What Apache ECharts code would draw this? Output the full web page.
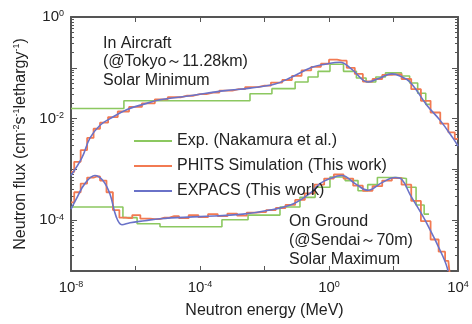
<!DOCTYPE html>
<html>
<head>
<meta charset="utf-8">
<script src="https://cdn.jsdelivr.net/npm/echarts@6/dist/echarts.min.js"></script>
<style>
  html, body { margin: 0; padding: 0; background: #ffffff; }
  #chart { width: 472px; height: 324px; }
</style>
</head>
<body>
<div id="chart"></div>
<script>
// all values are log10 exponents (energy in MeV, flux)
var expacsAirE = [-8.0, -7.66, -7.41, -7.10, -6.79, -6.26, -5.71, -5.24, -4.31, -3.22, -2.45, -1.67, -1.15, -0.53, -0.12, 0.34, 0.71, 1.21, 1.58, 1.95, 2.20, 2.51, 3.04, 3.44, 3.84, 4.0]
var expacsAirF = [-3.12, -2.77, -2.38, -2.13, -2.00, -1.82, -1.71, -1.63, -1.55, -1.45, -1.40, -1.32, -1.18, -0.99, -0.93, -0.89, -1.03, -1.28, -1.20, -1.12, -1.16, -1.28, -1.74, -2.03, -2.38, -2.54]
var expacsGroundE = [-8.0, -7.81, -7.57, -7.26, -7.01, -6.79, -6.60, -6.42, -6.17, -5.71, -5.24, -4.0, -2.67, -1.83, -1.12, -0.59, -0.28, 0.03, 0.40, 0.81, 1.21, 1.64, 2.05, 2.26, 2.51, 3.04, 3.53, 3.69]
var expacsGroundF = [-3.78, -3.55, -3.28, -3.12, -3.22, -3.49, -3.93, -4.09, -4.05, -4.01, -3.97, -3.93, -3.88, -3.80, -3.68, -3.47, -3.28, -3.18, -3.12, -3.28, -3.41, -3.26, -3.16, -3.20, -3.49, -4.07, -4.71, -5.00]

var phitsAirE = [-8.0, -7.8, -7.6, -7.4, -7.2, -7.0, -6.7, -6.4, -6.0, -5.6, -5.2, -4.8, -4.4, -4.0, -3.6, -3.2, -2.8, -2.4, -2.0, -1.6, -1.3, -1.0, -0.7, -0.4, -0.1, 0.1, 0.4, 0.7, 0.9, 1.2, 1.5, 1.8, 2.1, 2.4, 2.7, 3.0, 3.3, 3.6, 3.8, 4.0]
var phitsAirF = [-3.05, -2.85, -2.62, -2.38, -2.20, -2.08, -1.97, -1.86, -1.77, -1.70, -1.62, -1.58, -1.55, -1.52, -1.49, -1.45, -1.42, -1.38, -1.35, -1.29, -1.24, -1.16, -1.05, -0.98, -0.92, -0.84, -0.86, -1.00, -1.12, -1.27, -1.22, -1.14, -1.13, -1.22, -1.42, -1.65, -1.88, -2.10, -2.27, -2.40]
var phitsGroundE = [-8.0, -7.8, -7.6, -7.4, -7.2, -7.0, -6.8, -6.6, -6.4, -6.2, -6.0, -5.7, -5.4, -5.1, -4.8, -4.5, -4.2, -3.9, -3.6, -3.3, -3.0, -2.7, -2.4, -2.1, -1.8, -1.5, -1.2, -0.9, -0.6, -0.3, 0.0, 0.3, 0.6, 0.9, 1.2, 1.5, 1.8, 2.1, 2.4, 2.7, 3.0, 3.3, 3.5, 3.7, 3.8]
var phitsGroundF = [-3.65, -3.45, -3.28, -3.16, -3.14, -3.22, -3.45, -3.80, -3.95, -3.96, -3.90, -3.97, -3.98, -3.95, -3.92, -3.96, -3.90, -3.94, -3.88, -3.92, -3.87, -3.91, -3.85, -3.84, -3.80, -3.76, -3.70, -3.60, -3.47, -3.30, -3.18, -3.10, -3.18, -3.32, -3.42, -3.33, -3.22, -3.17, -3.30, -3.62, -4.02, -4.38, -4.62, -4.80, -5.10]

// measured spectra: bin left edges (last entry closes the final bin)
var expAirE = [-8.0, -6.36, -2.45, -1.77, -1.05, -0.65, -0.34, 0.03, 0.45, 0.85, 1.15, 1.45, 1.75, 2.25, 2.5, 2.75, 3.0, 3.15]
var expAirF = [-1.80, -1.65, -1.51, -1.41, -1.28, -1.18, -1.07, -0.93, -1.07, -1.20, -1.28, -1.18, -1.10, -1.16, -1.30, -1.50, -1.72, -1.72]
var expGroundE = [-8.0, -6.39, -5.95, -5.24, -3.32, -2.51, -1.52, -0.90, -0.43, 0.03, 0.5, 0.9, 1.2, 1.5, 2.1, 2.4, 2.7, 2.95, 3.1]
var expGroundF = [-3.74, -3.95, -4.07, -4.13, -3.99, -3.90, -3.74, -3.55, -3.35, -3.15, -3.22, -3.42, -3.30, -3.16, -3.18, -3.35, -3.70, -3.88, -3.88]

// ticks and tick labels
var xTicks = [1e-8, 1e-6, 1e-4, 1e-2, 1, 1e2, 1e4]
var xLabels = [1e-8, 1e-4, 1, 1e4]
var yTicks = [1e-5, 1e-4, 1e-3, 1e-2, 1e-1, 1]
var yLabels = [1e-4, 1e-2, 1]

var names = ['Exp. (Nakamura et al.)', 'PHITS Simulation (This work)', 'EXPACS (This work)']
var colors = ['#8cc860', '#f27a52', '#6a72c8']

function pts(e, f) {
  var out = []
  for (var i = 0; i < e.length; i++) {
    out.push([Math.pow(10, e[i]), Math.pow(10, f[i])])
  }
  return out
}

function expo(v) {
  return Math.round(Math.log(v) / Math.LN10)
}

// minor ticks at 2..9 of every decade
var yMinor = []
for (var k = 0; k < yTicks.length - 1; k++) {
  for (var m = 2; m <= 9; m++) yMinor.push(yTicks[k] * m)
}

var font = 'Liberation Sans, Arial, sans-serif'
var supRich = {
  b: { fontSize: 15, fontFamily: font, color: '#222' },
  s: { fontSize: 9, fontFamily: font, color: '#222', verticalAlign: 'top', padding: [0, 0, 6, 0] }
}
var supLabel = function (v) {
  return '{b|10}{s|' + expo(v) + '}'
}

var myChart = echarts.init(document.getElementById('chart'))
var frame = { show: true, lineStyle: { color: '#555', width: 2 } }
var tick = function (vals, len) {
  return { show: true, inside: true, length: len, customValues: vals, lineStyle: { color: '#555', width: 1 } }
}

var xBase = { type: 'log', logBase: 10, min: 1e-8, max: 1e4, splitLine: { show: false } }
var yBase = { type: 'log', logBase: 10, min: 1e-5, max: 1, splitLine: { show: false } }

var option = {
  backgroundColor: '#ffffff',
  animation: false,
  grid: { left: 71, right: 14, top: 17, bottom: 49 },
  legend: {
    orient: 'vertical',
    left: 128,
    top: 128,
    itemWidth: 38,
    itemHeight: 14,
    itemGap: 9,
    data: names,
    itemStyle: { opacity: 0 },
    textStyle: { fontSize: 16, fontFamily: font, color: '#222' }
  },
  xAxis: [
    Object.assign({}, xBase, {
      name: 'Neutron energy (MeV)', nameLocation: 'middle', nameGap: 32,
      nameTextStyle: { fontSize: 16, fontFamily: font, color: '#222' },
      axisLine: frame,
      axisTick: tick(xTicks, 5),
      axisLabel: { margin: 9, customValues: xLabels, formatter: supLabel, rich: supRich }
    }),
    Object.assign({}, xBase, {
      position: 'top',
      axisLine: frame,
      axisTick: tick(xTicks, 5),
      axisLabel: { show: false }
    })
  ],
  yAxis: [
    Object.assign({}, yBase, {
      name: 'Neutron flux (cm{s|-2}s{s|-1}lethargy{s|-1})', nameLocation: 'middle', nameGap: 41,
      nameTextStyle: {
        fontSize: 16, fontFamily: font, color: '#222',
        rich: { s: { fontSize: 9, fontFamily: font, color: '#222', verticalAlign: 'top', padding: [0, 0, 7, 0] } }
      },
      axisLine: frame,
      axisTick: tick(yTicks, 6),
      axisLabel: { margin: 7, customValues: yLabels, formatter: supLabel, rich: supRich }
    }),
    Object.assign({}, yBase, {
      position: 'right',
      axisLine: frame,
      axisTick: tick(yTicks, 6),
      axisLabel: { show: false }
    }),
    Object.assign({}, yBase, {
      position: 'left',
      axisLine: { show: false },
      axisTick: tick(yMinor, 3),
      axisLabel: { show: false }
    }),
    Object.assign({}, yBase, {
      position: 'right',
      axisLine: { show: false },
      axisTick: tick(yMinor, 3),
      axisLabel: { show: false }
    })
  ],
  graphic: [
    {
      type: 'text', left: 103, top: 34,
      style: {
        text: 'In Aircraft\n(@Tokyo～11.28km)\nSolar Minimum',
        font: '16px ' + font, fill: '#222', lineHeight: 18.5
      }
    },
    {
      type: 'text', left: 289, top: 212,
      style: {
        text: 'On Ground\n(@Sendai～70m)\nSolar Maximum',
        font: '16px ' + font, fill: '#222', lineHeight: 19
      }
    }
  ],
  series: [
    { name: names[0], type: 'line', step: 'end', symbol: 'none', data: pts(expAirE, expAirF), lineStyle: { color: colors[0], width: 1.6 }, itemStyle: { color: colors[0] } },
    { name: names[0], type: 'line', step: 'end', symbol: 'none', data: pts(expGroundE, expGroundF), lineStyle: { color: colors[0], width: 1.6 }, itemStyle: { color: colors[0] } },
    { name: names[1], type: 'line', step: 'middle', symbol: 'none', data: pts(phitsAirE, phitsAirF), lineStyle: { color: colors[1], width: 1.8 }, itemStyle: { color: colors[1] } },
    { name: names[1], type: 'line', step: 'middle', symbol: 'none', data: pts(phitsGroundE, phitsGroundF), lineStyle: { color: colors[1], width: 1.8 }, itemStyle: { color: colors[1] } },
    { name: names[2], type: 'line', smooth: 0.4, symbol: 'none', data: pts(expacsAirE, expacsAirF), lineStyle: { color: colors[2], width: 1.6 }, itemStyle: { color: colors[2] } },
    { name: names[2], type: 'line', smooth: 0.4, symbol: 'none', data: pts(expacsGroundE, expacsGroundF), lineStyle: { color: colors[2], width: 1.6 }, itemStyle: { color: colors[2] } }
  ]
}

myChart.setOption(option, true)
window.addEventListener('resize', function () {
  myChart.resize()
})
</script>
</body>
</html>
